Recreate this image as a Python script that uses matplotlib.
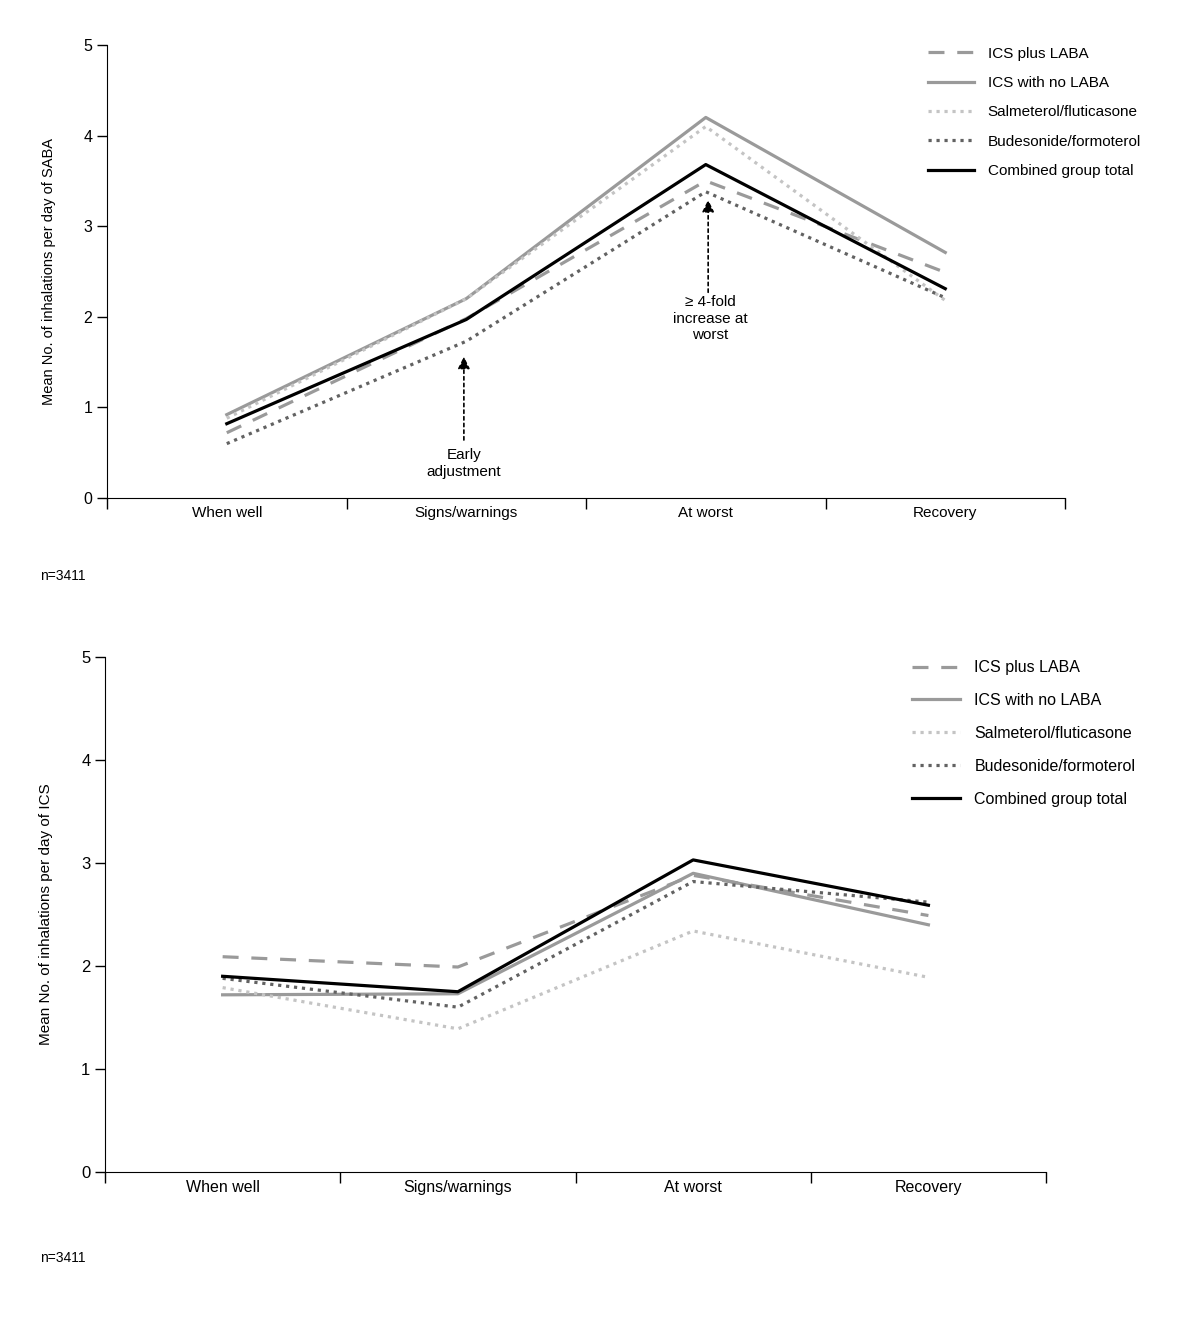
import numpy as np
import matplotlib
matplotlib.use("Agg")
import matplotlib.pyplot as plt

plt.rcParams["font.family"] = ["Liberation Sans", "DejaVu Sans"]

phases = ["When well", "Signs/warnings", "At worst", "Recovery"]
series_names = [
    "ICS plus LABA",
    "ICS with no LABA",
    "Salmeterol/fluticasone",
    "Budesonide/formoterol",
    "Combined group total",
]

# SABA use (top panel)
saba_ics_plus_laba = [0.72, 1.98, 3.50, 2.49]
saba_ics_no_laba = [0.92, 2.20, 4.20, 2.71]
saba_salm_flut = [0.88, 2.20, 4.10, 2.18]
saba_bud_form = [0.60, 1.73, 3.38, 2.21]
saba_combined = [0.82, 1.97, 3.68, 2.31]

# ICS use (bottom panel)
ics_ics_plus_laba = [2.09, 1.99, 2.88, 2.49]
ics_ics_no_laba = [1.72, 1.73, 2.90, 2.40]
ics_salm_flut = [1.79, 1.39, 2.34, 1.89]
ics_bud_form = [1.88, 1.60, 2.82, 2.62]
ics_combined = [1.90, 1.75, 3.03, 2.59]

styles = [
    dict(color="#9a9a9a", lw=2.3, ls=(0, (5, 4))),
    dict(color="#9a9a9a", lw=2.3, ls="-"),
    dict(color="#c4c4c4", lw=2.3, ls=(0, (1, 1.5))),
    dict(color="#626262", lw=2.3, ls=(0, (1, 1.5))),
    dict(color="black", lw=2.3, ls="-"),
]


def draw_panel(ax, data, ylabel, legend_anchor, fs, lspace):
    x = np.arange(len(phases)) + 0.5
    for name, vals, st in zip(series_names, data, styles):
        ax.plot(x, vals, label=name, **st)
    ax.set_xlim(0, len(phases))
    ax.set_ylim(0, 5)
    ax.set_xticks(np.arange(len(phases) + 1))
    ax.set_xticklabels([])
    ax.set_xticks(x, minor=True)
    ax.set_xticklabels(phases, minor=True, fontsize=fs)
    ax.tick_params(axis="x", which="minor", length=0, pad=6)
    ax.tick_params(axis="x", which="major", length=8, width=1)
    ax.tick_params(axis="y", length=7, width=1, labelsize=fs + 0.5)
    ax.set_yticks(range(6))
    for s in ["top", "right"]:
        ax.spines[s].set_visible(False)
    ax.set_ylabel(ylabel, fontsize=fs - 0.5, labelpad=20)
    ax.legend(loc="upper left", bbox_to_anchor=legend_anchor,
              bbox_transform=ax.figure.transFigure, frameon=False,
              fontsize=fs, handlelength=3.0, handletextpad=0.9,
              labelspacing=lspace)


fig = plt.figure(figsize=(12, 13.22), dpi=100)
ax1 = fig.add_axes([0.0892, 0.6233, 0.7983, 0.3427])
ax2 = fig.add_axes([0.0875, 0.1135, 0.7842, 0.3895])

draw_panel(ax1, [saba_ics_plus_laba, saba_ics_no_laba, saba_salm_flut,
                 saba_bud_form, saba_combined],
           "Mean No. of inhalations per day of SABA", (0.762, 0.975),
           11, 1.0)
draw_panel(ax2, [ics_ics_plus_laba, ics_ics_no_laba, ics_salm_flut,
                 ics_bud_form, ics_combined],
           "Mean No. of inhalations per day of ICS", (0.748, 0.5115),
           11.5, 1.12)

arrow = dict(arrowstyle="-|>", ls=(0, (2, 2)), color="black", lw=1.2,
             mutation_scale=18, shrinkA=0, shrinkB=0)
ax1.annotate("", xy=(1.49, 1.56), xytext=(1.49, 0.64), arrowprops=arrow)
ax1.text(1.49, 0.38, "Early\nadjustment", ha="center", va="center",
         fontsize=11, linespacing=1.2)
ax1.annotate("", xy=(2.51, 3.29), xytext=(2.51, 2.27), arrowprops=arrow)
ax1.text(2.52, 1.98, "\u2265 4-fold\nincrease at\nworst", ha="center",
         va="center", fontsize=11, linespacing=1.2)

fig.text(0.033, 1 - 576 / 1322, "n=3411", fontsize=10, va="center")
fig.text(0.033, 1 - 1258 / 1322, "n=3411", fontsize=10, va="center")

fig.savefig("out.png", dpi=100)
